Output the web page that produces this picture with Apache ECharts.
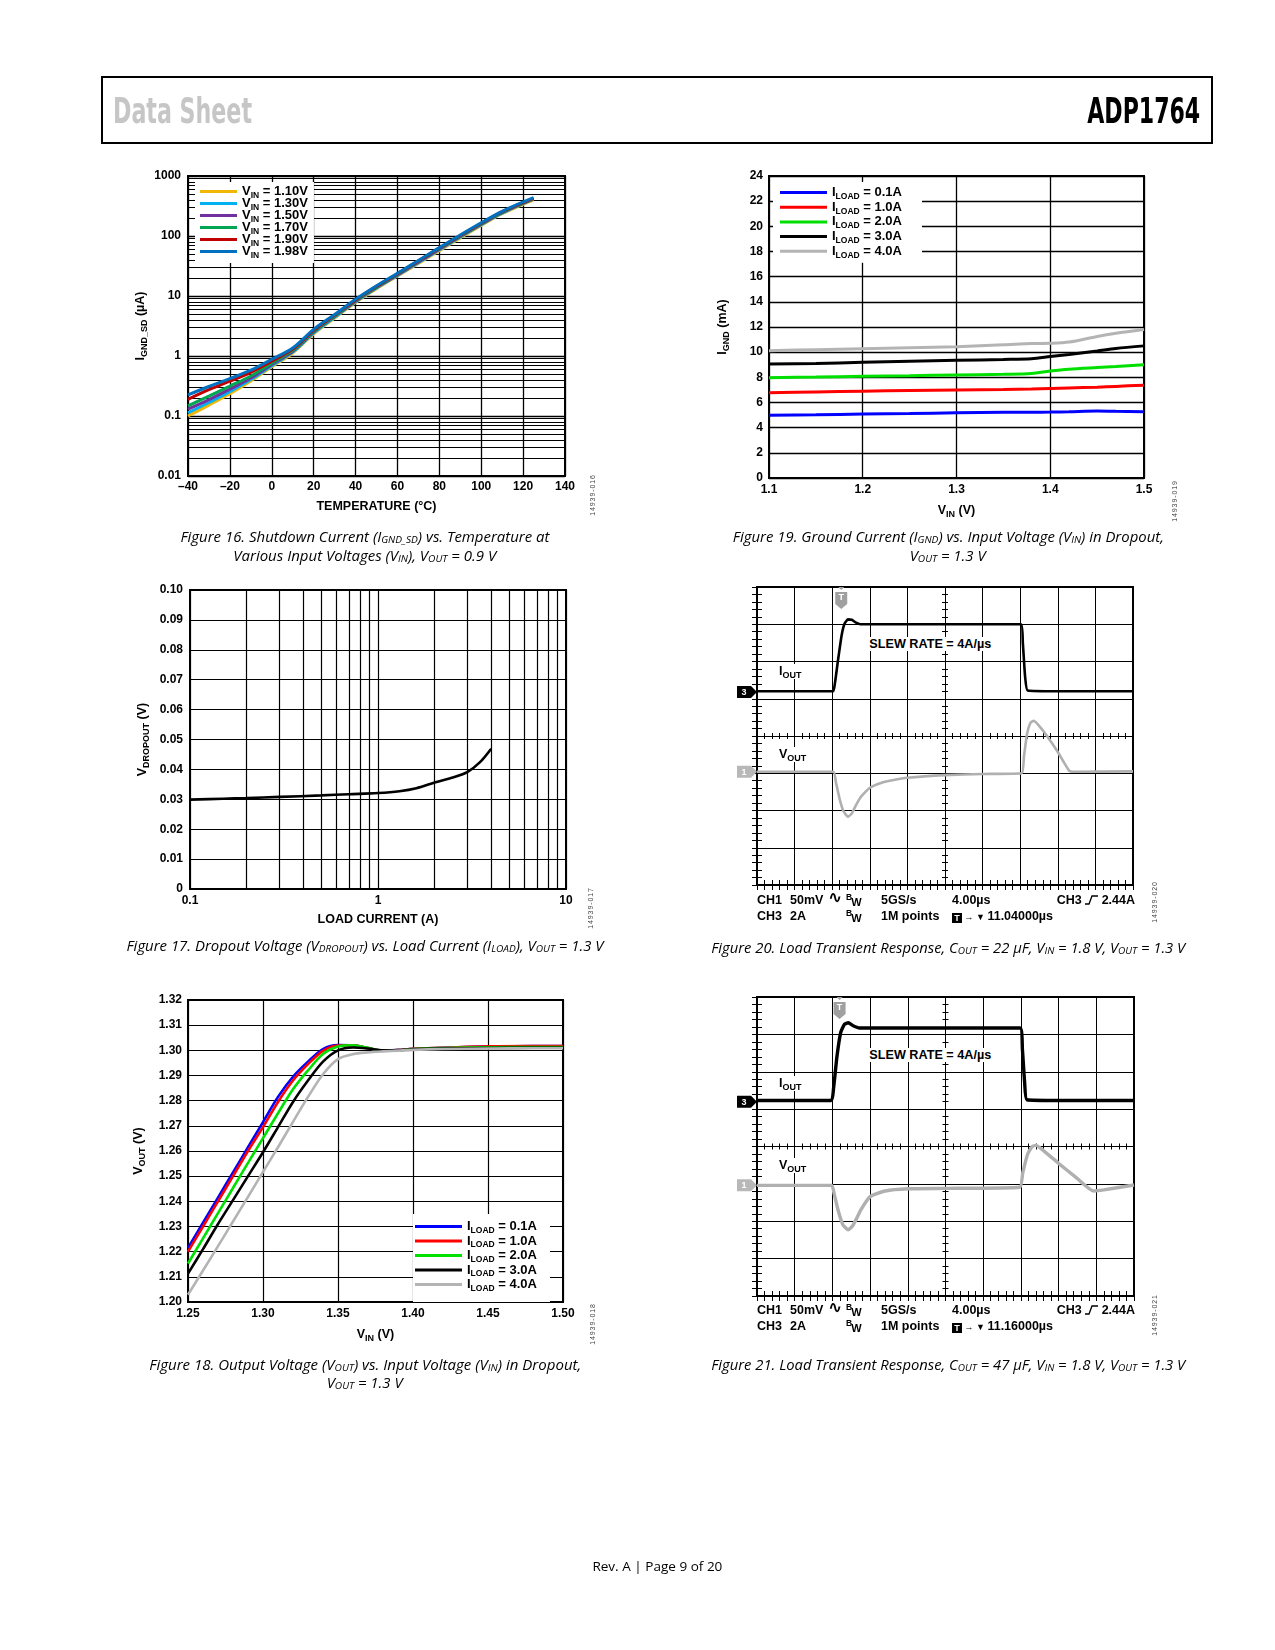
<!DOCTYPE html>
<html>
<head>
<meta charset="utf-8">
<title>ADP1764 Data Sheet - Page 9</title>
<script src="https://cdn.jsdelivr.net/npm/echarts@6.0.0/dist/echarts.min.js"></script>
<style>
  html, body { margin:0; padding:0; background:#fff; }
  #page { position:relative; width:1275px; height:1650px; overflow:hidden; background:#fff; }
  #chart { position:absolute; left:0; top:0; width:1275px; height:1650px; }
  .ov { position:absolute; white-space:nowrap; color:#000; z-index:5; }
  .hdr { position:absolute; left:101px; top:76px; width:1112px; height:68px; border:2px solid #000; box-sizing:border-box; z-index:5; }
  .hd { font-family:'Liberation Sans Narrow','DejaVu Sans Condensed',sans-serif; font-weight:bold; font-size:35px; line-height:40px; }
  .cap { font-family:'Open Sans','Noto Sans',sans-serif; font-style:italic; font-size:14px; line-height:18px; }
  .cap .s { font-size:9.5px; position:relative; top:1px; }
  .foot { font-family:'Open Sans','Noto Sans',sans-serif; font-size:13px; line-height:16px; }
  .sc { font-family:'Liberation Sans',Arial,sans-serif; font-weight:bold; font-size:12.5px; line-height:14px; }
  .sc .s { font-size:9px; position:relative; top:3px; }
  .bg { background:#fff; padding:0 2px; }
  .bw1 { font-size:8.5px; position:relative; top:-4px; }
  .bw2 { font-size:11px; position:relative; top:2px; left:-1px; }
  .tbox { display:inline-block; background:#000; color:#fff; font-size:9px; width:10px; height:10px; line-height:10px; text-align:center; vertical-align:-1px; }
  .small { font-size:9px; }
  .sine { font-family:'DejaVu Sans',sans-serif; font-size:17px; font-weight:bold; }
  .code { font-family:'Liberation Sans',Arial,sans-serif; font-size:7px; color:#444; letter-spacing:0.9px; width:60px; height:10px; line-height:10px; text-align:center; transform:rotate(-90deg); }
</style>
</head>
<body>
<div id="page">
  <div id="chart"></div>

  <div class="hdr"></div>
  <div class="ov hd fit" data-a="l" data-x="113" data-cy="111" data-w="139" style="color:#c6c6c6">Data Sheet</div>
  <div class="ov hd fit" data-a="r" data-x="1200" data-cy="111" data-w="113">ADP1764</div>

  <!-- captions -->
  <div class="ov cap fit" data-a="c" data-x="365" data-cy="538" data-w="369">Figure 16. Shutdown Current (I<span class="s">GND_SD</span>) vs. Temperature at</div>
  <div class="ov cap fit" data-a="c" data-x="365" data-cy="557" data-w="263">Various Input Voltages (V<span class="s">IN</span>), V<span class="s">OUT</span> = 0.9 V</div>
  <div class="ov cap fit" data-a="c" data-x="948" data-cy="538" data-w="431">Figure 19. Ground Current (I<span class="s">GND</span>) vs. Input Voltage (V<span class="s">IN</span>) in Dropout,</div>
  <div class="ov cap fit" data-a="c" data-x="948" data-cy="557" data-w="76">V<span class="s">OUT</span> = 1.3 V</div>
  <div class="ov cap fit" data-a="c" data-x="365" data-cy="947" data-w="477">Figure 17. Dropout Voltage (V<span class="s">DROPOUT</span>) vs. Load Current (I<span class="s">LOAD</span>), V<span class="s">OUT</span> = 1.3 V</div>
  <div class="ov cap fit" data-a="c" data-x="948" data-cy="949" data-w="474">Figure 20. Load Transient Response, C<span class="s">OUT</span> = 22 µF, V<span class="s">IN</span> = 1.8 V, V<span class="s">OUT</span> = 1.3 V</div>
  <div class="ov cap fit" data-a="c" data-x="365" data-cy="1366" data-w="432">Figure 18. Output Voltage (V<span class="s">OUT</span>) vs. Input Voltage (V<span class="s">IN</span>) in Dropout,</div>
  <div class="ov cap fit" data-a="c" data-x="365" data-cy="1384" data-w="76">V<span class="s">OUT</span> = 1.3 V</div>
  <div class="ov cap fit" data-a="c" data-x="948" data-cy="1366" data-w="474">Figure 21. Load Transient Response, C<span class="s">OUT</span> = 47 µF, V<span class="s">IN</span> = 1.8 V, V<span class="s">OUT</span> = 1.3 V</div>
  <div class="ov foot fit" data-a="c" data-x="657" data-cy="1566" data-w="130">Rev. A | Page 9 of 20</div>

  <!-- figure codes -->
  <div class="ov code" style="left:563px;top:490px">14939-016</div>
  <div class="ov code" style="left:1145px;top:496px">14939-019</div>
  <div class="ov code" style="left:561px;top:903px">14939-017</div>
  <div class="ov code" style="left:1125px;top:897px">14939-020</div>
  <div class="ov code" style="left:563px;top:1319px">14939-018</div>
  <div class="ov code" style="left:1125px;top:1310px">14939-021</div>

  <!-- Figure 20 annotations -->
  <div class="ov sc bg" style="left:777px;top:664px">I<span class="s">OUT</span></div>
  <div class="ov sc bg" style="left:777px;top:747px">V<span class="s">OUT</span></div>
  <div class="ov sc fit bg" data-a="c" data-x="930" data-cy="644" data-w="126">SLEW RATE = 4A/µs</div>
  <div class="ov sc" style="left:757px;top:893px">CH1</div>
  <div class="ov sc" style="left:790px;top:893px">50mV</div>
  <div class="ov sc sine" style="left:828px;top:890px">∿</div>
  <div class="ov sc" style="left:846px;top:893px"><span class="bw1">B</span><span class="bw2">W</span></div>
  <div class="ov sc" style="left:881px;top:893px">5GS/s</div>
  <div class="ov sc" style="left:952px;top:893px">4.00µs</div>
  <div class="ov sc" style="right:140px;top:893px">CH3 <svg width="13" height="10" style="vertical-align:-1px"><path d="M0,9 H4 L7,1 H13" fill="none" stroke="#000" stroke-width="1.3"/></svg> 2.44A</div>
  <div class="ov sc" style="left:757px;top:909px">CH3</div>
  <div class="ov sc" style="left:790px;top:909px">2A</div>
  <div class="ov sc" style="left:846px;top:909px"><span class="bw1">B</span><span class="bw2">W</span></div>
  <div class="ov sc" style="left:881px;top:909px">1M points</div>
  <div class="ov sc" style="left:952px;top:909px"><span class="tbox">T</span><span class="small"> → ▼ </span>11.04000µs</div>

  <!-- Figure 21 annotations -->
  <div class="ov sc bg" style="left:777px;top:1076px">I<span class="s">OUT</span></div>
  <div class="ov sc bg" style="left:777px;top:1158px">V<span class="s">OUT</span></div>
  <div class="ov sc fit bg" data-a="c" data-x="930" data-cy="1055" data-w="126">SLEW RATE = 4A/µs</div>
  <div class="ov sc" style="left:757px;top:1303px">CH1</div>
  <div class="ov sc" style="left:790px;top:1303px">50mV</div>
  <div class="ov sc sine" style="left:828px;top:1300px">∿</div>
  <div class="ov sc" style="left:846px;top:1303px"><span class="bw1">B</span><span class="bw2">W</span></div>
  <div class="ov sc" style="left:881px;top:1303px">5GS/s</div>
  <div class="ov sc" style="left:952px;top:1303px">4.00µs</div>
  <div class="ov sc" style="right:140px;top:1303px">CH3 <svg width="13" height="10" style="vertical-align:-1px"><path d="M0,9 H4 L7,1 H13" fill="none" stroke="#000" stroke-width="1.3"/></svg> 2.44A</div>
  <div class="ov sc" style="left:757px;top:1319px">CH3</div>
  <div class="ov sc" style="left:790px;top:1319px">2A</div>
  <div class="ov sc" style="left:846px;top:1319px"><span class="bw1">B</span><span class="bw2">W</span></div>
  <div class="ov sc" style="left:881px;top:1319px">1M points</div>
  <div class="ov sc" style="left:952px;top:1319px"><span class="tbox">T</span><span class="small"> → ▼ </span>11.16000µs</div>
</div>

<script>
// ================= DATA =================
// Figure 16: shutdown current (µA) vs temperature (°C)
const temp16   = [-40, -30, -20, -10, 0, 10, 20, 30, 40, 50, 60, 70, 80, 90, 100, 110, 125];
const isd_110  = [0.100, 0.152, 0.235, 0.385, 0.66, 1.12, 2.35, 4.30, 7.8, 13.2, 21.5, 35, 57, 93, 150, 235, 400];
const isd_130  = [0.113, 0.168, 0.255, 0.405, 0.69, 1.16, 2.42, 4.42, 8.0, 13.6, 22.0, 36, 59, 96, 154, 240, 410];
const isd_150  = [0.130, 0.188, 0.280, 0.430, 0.72, 1.20, 2.50, 4.55, 8.2, 13.9, 22.5, 37, 60, 98, 157, 245, 415];
const isd_170  = [0.148, 0.215, 0.315, 0.465, 0.76, 1.24, 2.58, 4.65, 8.4, 14.2, 23.0, 38, 62, 100, 160, 250, 420];
const isd_190  = [0.190, 0.275, 0.380, 0.535, 0.82, 1.30, 2.68, 4.80, 8.6, 14.5, 23.5, 38.5, 63, 102, 163, 255, 425];
const isd_198  = [0.225, 0.310, 0.420, 0.580, 0.88, 1.36, 2.78, 4.90, 8.8, 14.8, 24.0, 39, 64, 104, 166, 258, 435];
const vinLabels16 = ['1.10V', '1.30V', '1.50V', '1.70V', '1.90V', '1.98V'];

// Figure 19: ground current (mA) vs VIN (V)
const vin19    = [1.10, 1.15, 1.20, 1.25, 1.30, 1.35, 1.38, 1.40, 1.42, 1.45, 1.47, 1.50];
const ignd_01  = [4.98, 5.02, 5.08, 5.12, 5.18, 5.22, 5.23, 5.24, 5.27, 5.33, 5.30, 5.27];
const ignd_10  = [6.78, 6.84, 6.90, 6.95, 6.99, 7.04, 7.08, 7.12, 7.16, 7.22, 7.28, 7.38];
const ignd_20  = [7.97, 8.02, 8.08, 8.13, 8.19, 8.24, 8.30, 8.50, 8.65, 8.78, 8.86, 9.00];
const ignd_30  = [9.06, 9.10, 9.19, 9.27, 9.35, 9.42, 9.48, 9.65, 9.82, 10.10, 10.30, 10.50];
const ignd_40  = [10.12, 10.20, 10.28, 10.36, 10.44, 10.58, 10.68, 10.70, 10.80, 11.25, 11.50, 11.80];
const loadLabels = ['0.1A', '1.0A', '2.0A', '3.0A', '4.0A'];

// Figure 17: dropout voltage (V) vs load current (A)
const iload17  = [0.1, 0.15, 0.2, 0.3, 0.5, 0.7, 1.0, 1.3, 1.6, 2.0, 2.5, 3.0, 3.5, 4.0];
const vdrop17  = [0.0299, 0.0302, 0.0304, 0.0308, 0.0313, 0.0317, 0.0321, 0.0327, 0.0337, 0.0356, 0.0373, 0.0392, 0.0425, 0.0469];

// Figure 18: VOUT (V) vs VIN (V)
const vin18    = [1.25, 1.26, 1.27, 1.28, 1.29, 1.30, 1.31, 1.32, 1.33, 1.34, 1.35, 1.36, 1.37, 1.38, 1.39, 1.40, 1.42, 1.45, 1.48, 1.50];
const vout_01  = [1.2215, 1.2315, 1.2415, 1.2515, 1.2615, 1.2715, 1.2815, 1.2895, 1.2955, 1.3005, 1.3021, 1.3020, 1.3008, 1.2999, 1.3001, 1.3006, 1.3010, 1.3015, 1.3017, 1.3017];
const vout_10  = [1.2200, 1.2300, 1.2400, 1.2500, 1.2600, 1.2695, 1.2795, 1.2880, 1.2945, 1.2998, 1.3019, 1.3020, 1.3009, 1.2999, 1.3001, 1.3006, 1.3010, 1.3016, 1.3017, 1.3017];
const vout_20  = [1.2153, 1.2253, 1.2353, 1.2453, 1.2553, 1.2651, 1.2750, 1.2845, 1.2920, 1.2985, 1.3015, 1.3020, 1.3010, 1.2999, 1.3000, 1.3005, 1.3009, 1.3012, 1.3013, 1.3013];
const vout_30  = [1.2113, 1.2210, 1.2310, 1.2405, 1.2500, 1.2595, 1.2695, 1.2795, 1.2880, 1.2955, 1.3000, 1.3011, 1.3007, 1.3000, 1.3001, 1.3004, 1.3007, 1.3009, 1.3010, 1.3010];
const vout_40  = [1.2029, 1.2125, 1.2222, 1.2320, 1.2418, 1.2517, 1.2615, 1.2716, 1.2815, 1.2905, 1.2965, 1.2985, 1.2992, 1.2996, 1.2999, 1.3002, 1.3005, 1.3007, 1.3008, 1.3008];

// Figure 20 / 21: scope traces, [time division, vertical division]
const f20_iout = [[0,5.2],[2.02,5.2],[2.07,5.4],[2.15,6.0],[2.25,6.7],[2.33,7.02],[2.42,7.13],[2.52,7.12],[2.62,7.05],[2.75,7.0],[4,7.0],[7.02,7.0],[7.07,6.5],[7.13,5.6],[7.2,5.22],[8,5.2],[10,5.2]];
const f20_vout = [[0,3.04],[2.03,3.04],[2.1,2.75],[2.2,2.3],[2.3,1.98],[2.42,1.83],[2.52,1.92],[2.62,2.12],[2.75,2.35],[3.0,2.61],[3.3,2.74],[3.6,2.81],[4.0,2.88],[5.0,2.95],[6.0,2.98],[7.04,3.0],[7.1,3.45],[7.18,4.05],[7.27,4.35],[7.36,4.41],[7.48,4.3],[7.7,4.02],[8.0,3.57],[8.3,3.07],[8.4,3.04],[10,3.05]];
const f21_iout = [[0,5.23],[1.97,5.23],[2.03,5.55],[2.12,6.4],[2.22,7.05],[2.32,7.27],[2.42,7.31],[2.55,7.23],[2.72,7.17],[4,7.17],[6.98,7.17],[7.04,6.6],[7.1,5.7],[7.16,5.25],[8,5.23],[10,5.23]];
const f21_vout = [[0,2.96],[1.98,2.96],[2.05,2.72],[2.15,2.3],[2.28,1.9],[2.42,1.77],[2.53,1.87],[2.63,2.05],[2.75,2.3],[3.0,2.66],[3.4,2.81],[4.0,2.87],[5.0,2.88],[6.97,2.91],[7.05,3.3],[7.18,3.8],[7.3,4.0],[7.4,4.03],[7.55,3.93],[8.0,3.55],[8.5,3.14],[8.92,2.81],[9.2,2.84],[10,2.97]];
// channel ground markers (ch3, ch1) and trigger position, in divisions
const f20_levels = [5.18, 3.04];
const f20_trig = 2.24;
const f21_levels = [5.2, 2.96];
const f21_trig = 2.19;

// ================= STYLE / HELPERS =================
const FF = "'Liberation Sans', Arial, Helvetica, sans-serif";
const colors16 = ['#f2b705', '#00b0f0', '#7030a0', '#00a651', '#c00000', '#0070c0'];
const colorsLoad = ['#0000ff', '#ff0000', '#00e000', '#000000', '#b4b4b4'];
const scopeGray = '#b0b0b0';

function zip(xs, ys) { return xs.map((x, i) => [x, ys[i]]); }
function logMinors(decades) {
  const out = [];
  decades.forEach(d => { for (let k = 2; k <= 9; k++) out.push(+(d * k).toPrecision(3)); });
  return out;
}
const minor16 = logMinors([0.01, 0.1, 1, 10, 100]);
const minor17 = logMinors([0.1, 1]);

const fmtLog = v => v >= 1 ? String(Math.round(v)) : String(parseFloat(v.toPrecision(1)));
const fmtT = v => v < 0 ? '\u2013' + (-v) : String(v);

const nameRich = {
  a: { fontFamily: FF, fontWeight: 'bold', fontSize: 12.5, color: '#000', lineHeight: 14, verticalAlign: 'top' },
  s: { fontFamily: FF, fontWeight: 'bold', fontSize: 9, color: '#000', lineHeight: 9, padding: [6, 0, 0, 0], verticalAlign: 'top' }
};
const legRich = {
  a: { fontFamily: FF, fontWeight: 'bold', fontSize: 13, color: '#000', lineHeight: 13, verticalAlign: 'top' },
  s: { fontFamily: FF, fontWeight: 'bold', fontSize: 8.5, color: '#000', lineHeight: 9, padding: [6, 0, 0, 0], verticalAlign: 'top' }
};
const plainName = { fontFamily: FF, fontWeight: 'bold', fontSize: 12.5, color: '#000' };

const gl = w => ({ show: true, lineStyle: { color: '#000', width: w || 1.2, type: 'solid' } });
const tickLbl = (fmt, margin) => ({ show: true, color: '#000', fontFamily: FF, fontWeight: 'bold', fontSize: 12, margin: margin, formatter: fmt });
const off = { show: false };

function gridBox(l, t, w, h, show) {
  return { left: l, top: t, width: w, height: h, show: show, borderColor: '#000', borderWidth: 2,
           backgroundColor: 'transparent', containLabel: false, outerBoundsMode: 'none' };
}

const grids = [
  gridBox(188, 176, 377, 300, true),   // 0 Fig 16
  gridBox(769, 176, 375, 302, true),   // 1 Fig 19
  gridBox(190, 590, 376, 299, true),   // 2 Fig 17
  gridBox(757, 587, 376, 298, true),   // 3 Fig 20
  gridBox(188, 1000, 375, 302, true),  // 4 Fig 18
  gridBox(757, 997, 377, 299, true),   // 5 Fig 21
  gridBox(757, 587, 376, 298, false),  // 6 Fig 20 centre graticule
  gridBox(757, 997, 377, 299, false)   // 7 Fig 21 centre graticule
];

function scopeAxes(g, gc) {
  const tk = len => ({ show: true, inside: true, length: len, lineStyle: { color: '#000', width: 1 } });
  const mt = len => ({ show: true, splitNumber: 5, length: len, lineStyle: { color: '#000', width: 1 } });
  const cl = { show: true, onZero: true, lineStyle: { color: '#000', width: 1 } };
  const x = [
    { type: 'value', gridIndex: g, min: 0, max: 10, interval: 1, position: 'bottom', axisLine: off, axisLabel: off, axisTick: tk(5), minorTick: mt(5), splitLine: gl(1) },
    { type: 'value', gridIndex: g, min: 0, max: 10, interval: 1, position: 'top', axisLine: off, axisLabel: off, axisTick: tk(5), minorTick: mt(5), splitLine: off },
    { type: 'value', gridIndex: gc, min: -5, max: 5, interval: 1, position: 'bottom', axisLine: cl, axisLabel: off, axisTick: tk(3), minorTick: mt(3), splitLine: off },
    { type: 'value', gridIndex: gc, min: -5, max: 5, interval: 1, position: 'top', axisLine: cl, axisLabel: off, axisTick: tk(3), minorTick: mt(3), splitLine: off }
  ];
  const y = [
    { type: 'value', gridIndex: g, min: 0, max: 8, interval: 1, position: 'left', axisLine: off, axisLabel: off, axisTick: tk(5), minorTick: mt(5), splitLine: gl(1) },
    { type: 'value', gridIndex: g, min: 0, max: 8, interval: 1, position: 'right', axisLine: off, axisLabel: off, axisTick: tk(5), minorTick: mt(5), splitLine: off },
    { type: 'value', gridIndex: gc, min: -4, max: 4, interval: 1, position: 'left', axisLine: cl, axisLabel: off, axisTick: tk(3), minorTick: mt(3), splitLine: off },
    { type: 'value', gridIndex: gc, min: -4, max: 4, interval: 1, position: 'right', axisLine: cl, axisLabel: off, axisTick: tk(3), minorTick: mt(3), splitLine: off }
  ];
  return { x, y };
}
const s20 = scopeAxes(3, 6);
const s21 = scopeAxes(5, 7);

const xAxes = [
  { type: 'value', gridIndex: 0, min: -40, max: 140, interval: 20, axisLine: off, axisTick: off, splitLine: gl(1.3),
    axisLabel: tickLbl(fmtT, 5), name: 'TEMPERATURE (°C)', nameLocation: 'middle', nameGap: 24, nameTextStyle: plainName },
  { type: 'value', gridIndex: 1, min: 1.1, max: 1.5, interval: 0.1, axisLine: off, axisTick: off, splitLine: gl(1.3),
    axisLabel: tickLbl(v => v.toFixed(1), 6), name: '{a|V}{s|IN}{a| (V)}', nameLocation: 'middle', nameGap: 26, nameTextStyle: { rich: nameRich } },
  { type: 'log', logBase: 10, gridIndex: 2, min: 0.1, max: 10, axisLine: off, axisTick: off, splitLine: gl(1.2),
    axisLabel: tickLbl(fmtLog, 6), name: 'LOAD CURRENT (A)', nameLocation: 'middle', nameGap: 24, nameTextStyle: plainName },
  { type: 'value', gridIndex: 4, min: 1.25, max: 1.5, interval: 0.05, axisLine: off, axisTick: off, splitLine: gl(1.2),
    axisLabel: tickLbl(v => v.toFixed(2), 6), name: '{a|V}{s|IN}{a| (V)}', nameLocation: 'middle', nameGap: 26, nameTextStyle: { rich: nameRich } }
].concat(s20.x, s21.x);   // 4..7 Fig 20, 8..11 Fig 21

const yAxes = [
  { type: 'log', logBase: 10, gridIndex: 0, min: 0.01, max: 1000, axisLine: off, axisTick: off, splitLine: gl(1.3),
    axisLabel: tickLbl(fmtLog, 7), name: '{a|I}{s|GND_SD}{a| (µA)}', nameLocation: 'middle', nameGap: 40, nameTextStyle: { rich: nameRich } },
  { type: 'value', gridIndex: 1, min: 0, max: 24, interval: 2, axisLine: off, axisTick: off, splitLine: gl(1.3),
    axisLabel: tickLbl(v => String(v), 6), name: '{a|I}{s|GND}{a| (mA)}', nameLocation: 'middle', nameGap: 39, nameTextStyle: { rich: nameRich } },
  { type: 'value', gridIndex: 2, min: 0, max: 0.1, interval: 0.01, axisLine: off, axisTick: off, splitLine: gl(1.2),
    axisLabel: tickLbl(v => v === 0 ? '0' : v.toFixed(2), 7), name: '{a|V}{s|DROPOUT}{a| (V)}', nameLocation: 'middle', nameGap: 40, nameTextStyle: { rich: nameRich } },
  { type: 'value', gridIndex: 4, min: 1.2, max: 1.32, interval: 0.01, axisLine: off, axisTick: off, splitLine: gl(1.2),
    axisLabel: tickLbl(v => v.toFixed(2), 6), name: '{a|V}{s|OUT}{a| (V)}', nameLocation: 'middle', nameGap: 42, nameTextStyle: { rich: nameRich } }
].concat(s20.y, s21.y);

// ================= SERIES =================
const series = [];
function gridLines(xi, yi, dim, values) {
  series.push({ type: 'line', name: 'grid' + xi, xAxisIndex: xi, yAxisIndex: yi, data: [], z: 1, silent: true,
    markLine: { silent: true, z: 1, symbol: ['none', 'none'], label: { show: false }, animation: false,
      lineStyle: { color: '#000', width: 1.2, type: 'solid' }, emphasis: { disabled: true },
      data: values.map(v => ({ [dim]: v })) } });
}
gridLines(0, 0, 'yAxis', minor16);
gridLines(2, 2, 'xAxis', minor17);

const legendText = {};
[isd_110, isd_130, isd_150, isd_170, isd_190, isd_198].forEach((ys, i) => {
  const n = 'f16_' + i;
  legendText[n] = '{a|V}{s|IN}{a| = ' + vinLabels16[i] + '}';
  series.push({ type: 'line', name: n, xAxisIndex: 0, yAxisIndex: 0, data: zip(temp16, ys), smooth: 0.35,
    showSymbol: false, symbol: 'none', z: 3, lineStyle: { color: colors16[i], width: 3 }, itemStyle: { color: colors16[i] } });
});
[ignd_01, ignd_10, ignd_20, ignd_30, ignd_40].forEach((ys, i) => {
  const n = 'f19_' + i;
  legendText[n] = '{a|I}{s|LOAD}{a| = ' + loadLabels[i] + '}';
  series.push({ type: 'line', name: n, xAxisIndex: 1, yAxisIndex: 1, data: zip(vin19, ys), smooth: 0.3,
    showSymbol: false, symbol: 'none', z: 3, lineStyle: { color: colorsLoad[i], width: 3 }, itemStyle: { color: colorsLoad[i] } });
});
series.push({ type: 'line', name: 'f17', xAxisIndex: 2, yAxisIndex: 2, data: zip(iload17, vdrop17), smooth: 0.3,
  showSymbol: false, symbol: 'none', z: 3, lineStyle: { color: '#000', width: 2.6 }, itemStyle: { color: '#000' } });
[vout_01, vout_10, vout_20, vout_30, vout_40].forEach((ys, i) => {
  const n = 'f18_' + i;
  legendText[n] = '{a|I}{s|LOAD}{a| = ' + loadLabels[i] + '}';
  series.push({ type: 'line', name: n, xAxisIndex: 3, yAxisIndex: 3, data: zip(vin18, ys), smooth: 0.3,
    showSymbol: false, symbol: 'none', z: 3, lineStyle: { color: colorsLoad[i], width: 2.6 }, itemStyle: { color: colorsLoad[i] } });
});

const CH_PATH = 'path://M0,0 L14,0 L20,6 L14,12 L0,12 Z';
const T_PATH = 'path://M3,0 L9,0 L6,3 Z M0,5 L12,5 L12,17 L6,22 L0,17 Z';
function chMark(level, txt, color) {
  return { coord: [0, level], symbol: CH_PATH, symbolSize: [20, 12], symbolOffset: [-10, 0], itemStyle: { color: color },
    label: { show: true, formatter: txt, color: '#fff', fontSize: 9, fontWeight: 'bold', fontFamily: FF, offset: [-3, 0.5] } };
}
function trigMark(x) {
  return { coord: [x, 8], symbol: T_PATH, symbolSize: [12, 22], symbolOffset: [0, 11], itemStyle: { color: '#a0a0a0' },
    label: { show: true, formatter: 'T', color: '#fff', fontSize: 9, fontWeight: 'bold', fontFamily: FF, offset: [0, 0] } };
}
function scopeSeries(xi, iout, vout, levels, trig, w) {
  series.push({ type: 'line', name: 'vout' + xi, xAxisIndex: xi, yAxisIndex: xi, data: vout, smooth: 0.15, showSymbol: false, symbol: 'none',
    z: 3, lineStyle: { color: scopeGray, width: w }, itemStyle: { color: scopeGray },
    markPoint: { silent: true, animation: false, data: [chMark(levels[1], '1', '#b8b8b8')] } });
  series.push({ type: 'line', name: 'iout' + xi, xAxisIndex: xi, yAxisIndex: xi, data: iout, smooth: 0.15, showSymbol: false, symbol: 'none',
    z: 4, lineStyle: { color: '#000', width: w }, itemStyle: { color: '#000' },
    markPoint: { silent: true, animation: false, data: [chMark(levels[0], '3', '#000'), trigMark(trig)] } });
}
scopeSeries(4, f20_iout, f20_vout, f20_levels, f20_trig, 2.6);
scopeSeries(8, f21_iout, f21_vout, f21_levels, f21_trig, 3.4);

function legendBox(names, left, top, pad, gap, w) {
  return { show: true, z: 10, orient: 'vertical', left: left, top: top, padding: pad, itemGap: gap, itemWidth: w, itemHeight: 3,
    icon: 'rect', backgroundColor: '#fff', selectedMode: false, data: names, formatter: n => legendText[n],
    textStyle: { rich: legRich, color: '#000' } };
}
const legends = [
  legendBox(['f16_0', 'f16_1', 'f16_2', 'f16_3', 'f16_4', 'f16_5'], 195, 182, [3, 6, 3, 5], -3, 37),
  legendBox(['f19_0', 'f19_1', 'f19_2', 'f19_3', 'f19_4'], 773, 182, [4, 20, 3, 7], -0.3, 47),
  legendBox(['f18_0', 'f18_1', 'f18_2', 'f18_3', 'f18_4'], 413, 1214, [6, 13, 9, 2], -0.5, 47)
];

const chart = echarts.init(document.getElementById('chart'), null, { renderer: 'canvas', width: 1275, height: 1650 });
chart.setOption({
  animation: false,
  backgroundColor: '#fff',
  textStyle: { fontFamily: FF },
  grid: grids,
  xAxis: xAxes,
  yAxis: yAxes,
  legend: legends,
  series: series
});

// fit overlay texts to the widths measured on the reference
document.querySelectorAll('.fit').forEach(el => {
  const r = el.getBoundingClientRect();
  const w = r.width, h = r.height;
  const tw = +el.dataset.w, x = +el.dataset.x, cy = +el.dataset.cy, a = el.dataset.a;
  const k = tw / w;
  el.style.top = (cy - h / 2) + 'px';
  if (a === 'l') { el.style.left = x + 'px'; el.style.transformOrigin = '0 50%'; }
  else if (a === 'r') { el.style.left = (x - w) + 'px'; el.style.transformOrigin = '100% 50%'; }
  else { el.style.left = (x - w / 2) + 'px'; el.style.transformOrigin = '50% 50%'; }
  el.style.transform = 'scaleX(' + k.toFixed(4) + ')';
});
</script>
</body>
</html>
